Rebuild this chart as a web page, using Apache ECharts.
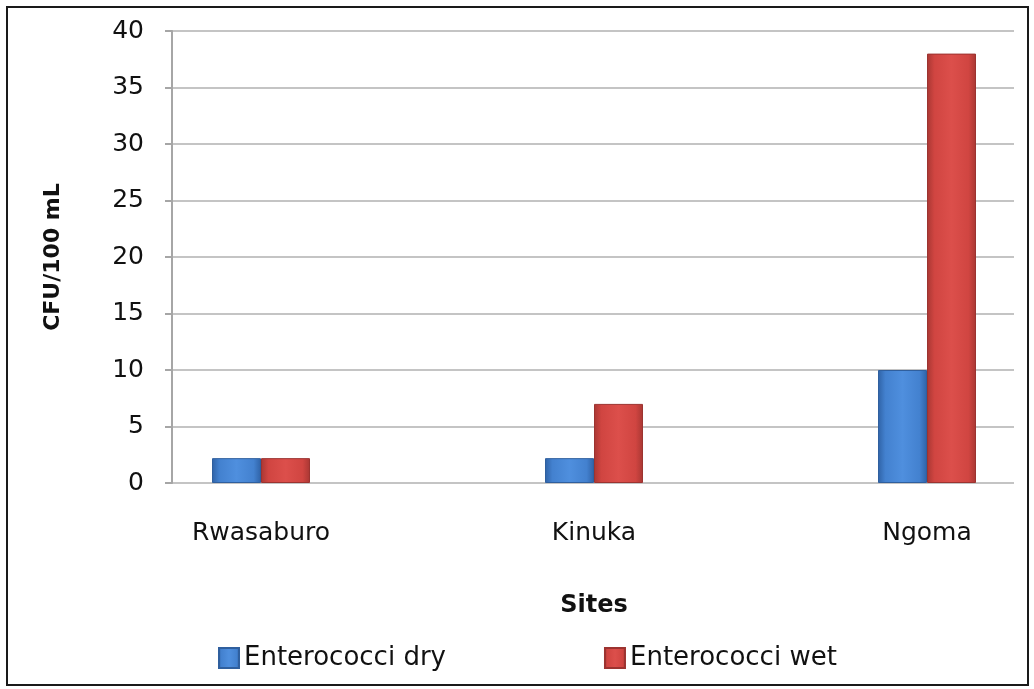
<!DOCTYPE html>
<html>
<head>
<meta charset="utf-8">
<script src="https://cdn.jsdelivr.net/npm/echarts@6/dist/echarts.min.js"></script>
<style>
  html, body { margin: 0; padding: 0; background: #fff; }
  #chart { width: 1034px; height: 689px; }
</style>
</head>
<body>
<div id="chart"></div>
<script>
var sites = ['Rwasaburo', 'Kinuka', 'Ngoma'];
var dryValues = [2.2, 2.2, 10];
var wetValues = [2.2, 7, 38];
var seriesNames = ['Enterococci dry', 'Enterococci wet'];

var font = 'DejaVu Sans';

function barColor(dark, mid, light) {
    return {
        type: 'linear', x: 0, y: 0, x2: 1, y2: 0,
        colorStops: [
            {offset: 0, color: dark},
            {offset: 0.15, color: mid},
            {offset: 0.5, color: light},
            {offset: 0.85, color: mid},
            {offset: 1, color: dark}
        ]
    };
}

var chart = echarts.init(document.getElementById('chart'));
var option = {
    backgroundColor: '#fff',
    animation: false,
    textStyle: {fontFamily: font},
    graphic: [{
        type: 'rect',
        shape: {x: 7, y: 7, width: 1021, height: 678},
        style: {fill: null, stroke: '#1a1a1a', lineWidth: 2},
        silent: true
    }],
    legend: {
        bottom: 13,
        left: 213,
        itemWidth: 20,
        itemHeight: 20,
        itemGap: 158,
        icon: 'rect',
        textStyle: {fontFamily: font, fontSize: 26, color: '#111'},
        data: seriesNames
    },
    grid: [
        {left: 172, right: 20, top: 31, bottom: 206},
        {left: 261, right: 107, top: 31, bottom: 206}
    ],
    xAxis: [
        {
            gridIndex: 0, type: 'value', min: 0, max: 1,
            show: false
        },
        {
            gridIndex: 1, type: 'category', data: sites, boundaryGap: false,
            axisLine: {show: false}, axisTick: {show: false},
            axisLabel: {fontFamily: font, fontSize: 25, color: '#111', margin: 38},
            name: 'Sites', nameLocation: 'middle', nameGap: 111,
            nameTextStyle: {fontFamily: font, fontSize: 24, fontWeight: 'bold', color: '#111'}
        }
    ],
    yAxis: [
        {
            gridIndex: 0, type: 'value', min: 0, max: 40, interval: 5,
            axisLine: {show: true, lineStyle: {color: '#a6a6a6', width: 2}},
            axisTick: {show: true, length: 7, lineStyle: {color: '#a6a6a6', width: 2}},
            splitLine: {show: true, lineStyle: {color: '#c4c4c4', width: 2}},
            axisLabel: {fontFamily: font, fontSize: 25, color: '#111', margin: 28},
            name: 'CFU/100 mL', nameLocation: 'middle', nameGap: 108, nameRotate: 90,
            nameTextStyle: {fontFamily: font, fontSize: 22, fontWeight: 'bold', color: '#111'}
        },
        {
            gridIndex: 1, type: 'value', min: 0, max: 40, interval: 5,
            show: false
        }
    ],
    series: [
        {
            name: seriesNames[0], type: 'bar', xAxisIndex: 1, yAxisIndex: 1,
            data: dryValues, barWidth: 49, barGap: '0%',
            itemStyle: {
                color: barColor('#2f62a6', '#4381cf', '#4f8fde'),
                borderColor: '#2f5f9e', borderWidth: 1
            }
        },
        {
            name: seriesNames[1], type: 'bar', xAxisIndex: 1, yAxisIndex: 1,
            data: wetValues, barWidth: 49, barGap: '0%',
            itemStyle: {
                color: barColor('#a83733', '#d04541', '#dc4f4b'),
                borderColor: '#9c3330', borderWidth: 1
            }
        }
    ]
};
chart.setOption(option);
</script>
</body>
</html>
